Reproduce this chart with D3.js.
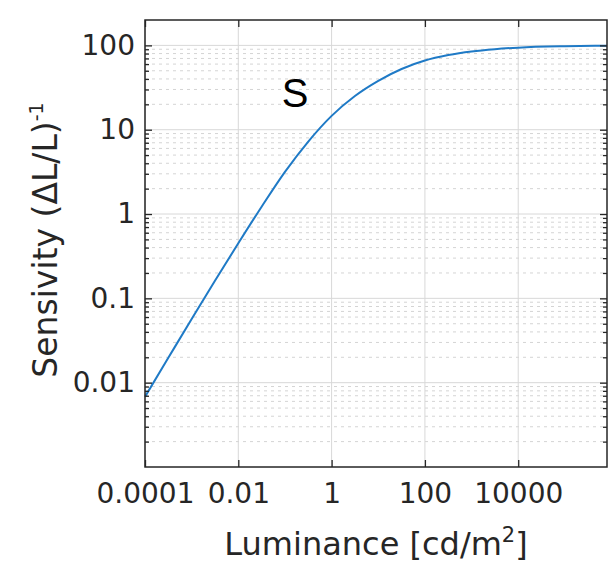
<!DOCTYPE html>
<html>
<head>
<meta charset="utf-8">
<script src="https://cdn.jsdelivr.net/npm/d3@7"></script>
<style>
  body { margin: 0; background: #fff; }
  svg { display: block; font-family: "DejaVu Sans", sans-serif; }
</style>
</head>
<body>
<svg width="608" height="562"></svg>
<script>
// values
var luminance = [1e-4, 3.16e-4, 1e-3, 3.16e-3, 0.01, 0.0316, 0.1, 0.316, 1, 3.16, 10, 31.6, 100, 316, 1000, 3162, 1e4, 1e5, 8e5];
var sensitivity = [0.0068, 0.0197, 0.057, 0.162, 0.45, 1.22, 3.16, 7.24, 14.6, 25.1, 38.0, 52.5, 66.1, 76.7, 84.7, 90.2, 94.0, 97.7, 99.1];

var xTicks = [1e-4, 1e-2, 1, 100, 1e4];
var xTickLabels = ["0.0001", "0.01", "1", "100", "10000"];
var yTicks = [0.01, 0.1, 1, 10, 100];
var yTickLabels = ["0.01", "0.1", "1", "10", "100"];

var svg = d3.select("svg");
var pl = 145, pr = 607, pt = 20, pb = 467;

var x = d3.scaleLog().domain([1e-4, 8e5]).range([pl, pr]);
var y = d3.scaleLog().domain([1e-3, 200]).range([pb, pt]);

// minor y values 2..9 per decade
var yMinor = [];
[1e-3, 1e-2, 1e-1, 1, 10, 100].forEach(function(d) {
  for (var k = 2; k <= 9; k++) {
    if (k * d < 200) yMinor.push(k * d);
  }
});

var grid = svg.append("g");
grid.selectAll("line.minor")
  .data(yMinor)
  .enter().append("line")
    .attr("x1", pl).attr("x2", pr)
    .attr("y1", d => y(d)).attr("y2", d => y(d))
    .style("stroke", "#d4d4d4")
    .style("stroke-width", 1)
    .style("stroke-dasharray", "3,4");

grid.selectAll("line.ymajor")
  .data(yTicks)
  .enter().append("line")
    .attr("x1", pl).attr("x2", pr)
    .attr("y1", d => y(d)).attr("y2", d => y(d))
    .style("stroke", "#d8d8d8")
    .style("stroke-width", 1);

grid.selectAll("line.xmajor")
  .data(xTicks)
  .enter().append("line")
    .attr("x1", d => x(d)).attr("x2", d => x(d))
    .attr("y1", pt).attr("y2", pb)
    .style("stroke", "#d8d8d8")
    .style("stroke-width", 1);

// curve
var line = d3.line()
  .x((d, i) => x(luminance[i]))
  .y(d => y(d))
  .curve(d3.curveMonotoneX);

svg.append("path")
  .datum(sensitivity)
  .attr("d", line)
  .style("fill", "none")
  .style("stroke", "#1f7ac6")
  .style("stroke-width", 2);

// axes (ticks inside)
var axisColor = "#262626";
function styleAxis(g) {
  g.select(".domain").remove();
  g.selectAll(".tick line").style("stroke", axisColor).style("stroke-width", 1.3);
  g.selectAll(".tick text").style("fill", axisColor).style("font-size", "28px")
    .style("font-family", "DejaVu Sans, sans-serif");
}

svg.append("g")
  .attr("transform", "translate(0," + pb + ")")
  .call(d3.axisBottom(x).tickValues(xTicks).tickSize(-7).tickPadding(16)
    .tickFormat((d, i) => xTickLabels[i]))
  .call(styleAxis);

svg.append("g")
  .attr("transform", "translate(0," + pt + ")")
  .call(d3.axisTop(x).tickValues(xTicks).tickSize(-7).tickFormat(""))
  .call(styleAxis);

svg.append("g")
  .attr("transform", "translate(" + pl + ",0)")
  .call(d3.axisLeft(y).tickValues(yTicks).tickSize(-7).tickPadding(10)
    .tickFormat((d, i) => yTickLabels[i]))
  .call(styleAxis);

svg.append("g")
  .attr("transform", "translate(" + pl + ",0)")
  .call(d3.axisLeft(y).tickValues(yMinor).tickSize(-4).tickFormat(""))
  .call(styleAxis);

svg.append("g")
  .attr("transform", "translate(" + pr + ",0)")
  .call(d3.axisRight(y).tickValues(yTicks).tickSize(-7).tickFormat(""))
  .call(styleAxis);

svg.append("g")
  .attr("transform", "translate(" + pr + ",0)")
  .call(d3.axisRight(y).tickValues(yMinor).tickSize(-4).tickFormat(""))
  .call(styleAxis);

// box
svg.append("rect")
  .attr("x", pl).attr("y", pt)
  .attr("width", pr - pl).attr("height", pb - pt)
  .style("fill", "none")
  .style("stroke", axisColor)
  .style("stroke-width", 1.5);

// titles
var xt = svg.append("text")
  .attr("x", (pl + pr) / 2)
  .attr("y", 555)
  .attr("text-anchor", "middle")
  .style("font-size", "32px")
  .style("fill", axisColor);
xt.append("tspan").text("Luminance [cd/m");
xt.append("tspan").attr("dy", -13).style("font-size", "21px").text("2");
xt.append("tspan").attr("dy", 13).text("]");

var yt = svg.append("text")
  .attr("transform", "translate(57,240) rotate(-90)")
  .attr("text-anchor", "middle")
  .style("font-size", "33px")
  .style("fill", axisColor);
yt.append("tspan").text("Sensivity (\u0394L/L)");
yt.append("tspan").attr("dy", -14).style("font-size", "19px").text("-1");

svg.append("text")
  .attr("x", 295)
  .attr("y", 107)
  .attr("text-anchor", "middle")
  .style("font-family", "Liberation Sans, Arial, sans-serif")
  .style("font-size", "40px")
  .style("fill", "#000")
  .text("S");
</script>
</body>
</html>
